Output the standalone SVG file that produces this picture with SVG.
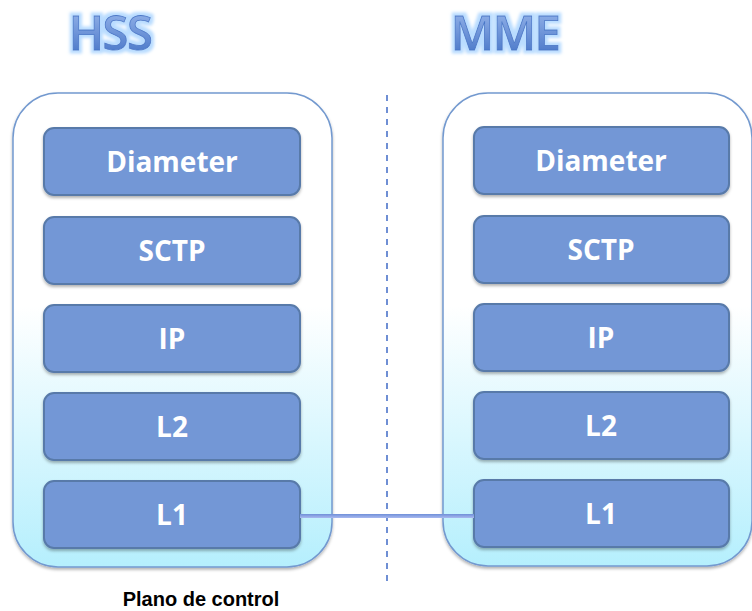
<svg xmlns="http://www.w3.org/2000/svg" width="752" height="611" viewBox="0 0 752 611">
<defs>
  <linearGradient id="cont" x1="0" y1="0" x2="0" y2="1">
    <stop offset="0" stop-color="#ffffff"/>
    <stop offset="0.45" stop-color="#ffffff"/>
    <stop offset="1" stop-color="#b5effd"/>
  </linearGradient>
  <linearGradient id="title" x1="0" y1="0" x2="0" y2="1">
    <stop offset="0" stop-color="#a3bff0"/>
    <stop offset="1" stop-color="#3c6cc2"/>
  </linearGradient>
  <linearGradient id="link" x1="0" y1="0" x2="0" y2="1">
    <stop offset="0" stop-color="#6f8fd8"/>
    <stop offset="1" stop-color="#a9b9f0"/>
  </linearGradient>
  <filter id="shadow" x="-10%" y="-10%" width="120%" height="130%">
    <feDropShadow dx="0" dy="2" stdDeviation="1.5" flood-color="#000" flood-opacity="0.3"/>
  </filter>
  <filter id="glow" x="-20%" y="-30%" width="140%" height="160%">
    <feMorphology in="SourceAlpha" operator="dilate" radius="2.5" result="d"/>
    <feGaussianBlur in="d" stdDeviation="1.5" result="b"/>
    <feFlood flood-color="#b9dcff"/>
    <feComposite in2="b" operator="in" result="g"/>
    <feMerge><feMergeNode in="g"/><feMergeNode in="SourceGraphic"/></feMerge>
  </filter>
</defs>
<style>
  .cont { fill: url(#cont); stroke: #7399cf; stroke-width: 1.5; filter: url(#shadow); }
  .box { fill: #7397d6; stroke: #587aa9; stroke-width: 2; filter: url(#shadow); }
  .lbl { font-family: "Open Sans", "Liberation Sans", sans-serif; font-weight: bold; font-size: 28px; fill: #ffffff; text-anchor: middle; }
  .title { font-family: "Open Sans", "Liberation Sans", sans-serif; font-weight: 600; font-size: 47px; fill: url(#title); stroke: #4a78c8; stroke-width: 0.8; text-anchor: middle; filter: url(#glow); letter-spacing: -1.5px; }
  .caption { font-family: "Liberation Sans", Arial, sans-serif; font-weight: bold; font-size: 20px; fill: #000000; text-anchor: middle; }
</style>

<text class="title" x="110" y="50">HSS</text>
<text class="title" x="505" y="50">MME</text>

<line x1="387" y1="95" x2="387" y2="582" stroke="#6f8fd4" stroke-width="2" stroke-dasharray="6,6"/>

<g id="hss">
  <rect class="cont" x="13" y="93" width="319" height="474" rx="45" ry="45"/>
  <g id="hss-diameter"><rect class="box" x="44" y="128" width="256" height="67" rx="10"/><text class="lbl" x="172" y="172">Diameter</text></g>
  <g id="hss-sctp"><rect class="box" x="44" y="217" width="256" height="67" rx="10"/><text class="lbl" x="172" y="261">SCTP</text></g>
  <g id="hss-ip"><rect class="box" x="44" y="305" width="256" height="67" rx="10"/><text class="lbl" x="172" y="349">IP</text></g>
  <g id="hss-l2"><rect class="box" x="44" y="393" width="256" height="67" rx="10"/><text class="lbl" x="172" y="437">L2</text></g>
  <g id="hss-l1"><rect class="box" x="44" y="481" width="256" height="67" rx="10"/><text class="lbl" x="172" y="525">L1</text></g>
</g>

<g id="mme">
  <rect class="cont" x="443" y="93" width="309" height="473" rx="45" ry="45"/>
  <g id="mme-diameter"><rect class="box" x="474" y="127" width="255" height="67" rx="10"/><text class="lbl" x="601" y="171">Diameter</text></g>
  <g id="mme-sctp"><rect class="box" x="474" y="216" width="255" height="67" rx="10"/><text class="lbl" x="601" y="260">SCTP</text></g>
  <g id="mme-ip"><rect class="box" x="474" y="304" width="255" height="67" rx="10"/><text class="lbl" x="601" y="348">IP</text></g>
  <g id="mme-l2"><rect class="box" x="474" y="392" width="255" height="67" rx="10"/><text class="lbl" x="601" y="436">L2</text></g>
  <g id="mme-l1"><rect class="box" x="474" y="480" width="255" height="67" rx="10"/><text class="lbl" x="601" y="524">L1</text></g>
</g>

<g id="connectors">
  <rect x="300" y="514" width="174" height="4" fill="url(#link)"/>
</g>

<text class="caption" x="201" y="606">Plano de control</text>
</svg>
